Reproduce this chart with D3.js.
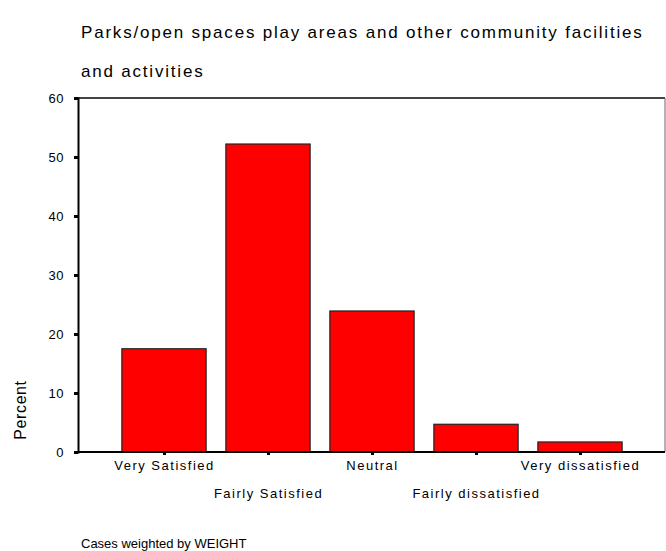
<!DOCTYPE html>
<html>
<head>
<meta charset="utf-8">
<script src="https://cdn.jsdelivr.net/npm/d3@7"></script>
<style>
  html, body { margin: 0; padding: 0; background: #fff; }
  svg text { font-family: Arial, "Liberation Sans", sans-serif; fill: #000; }
</style>
</head>
<body>
<svg id="chart" width="666" height="551"></svg>
<script>
const titleLines = ["Parks/open spaces play areas and other community facilities", "and activities"];
const categories = ["Very Satisfied", "Fairly Satisfied", "Neutral", "Fairly dissatisfied", "Very dissatisfied"];
const percents = [17.5, 52.2, 23.9, 4.7, 1.7];
const yTicks = [0, 10, 20, 30, 40, 50, 60];
const yLabel = "Percent";
const footnote = "Cases weighted by WEIGHT";

const svg = d3.select("#chart");
const plot = { left: 78, right: 665, top: 98, bottom: 452 };
const FONT = "Arial, 'Liberation Sans', sans-serif";

const x = d3.scalePoint().domain(categories).range([112, 632]).padding(0.5);
const step = x.step();
const barW = step * 0.81;
const y = d3.scaleLinear().domain([0, 60]).range([plot.bottom, plot.top]);

// title
svg.selectAll("text.title").data(titleLines).join("text")
  .attr("class", "title")
  .attr("x", 81)
  .attr("y", (d, i) => 38 + i * 39)
  .style("font-size", "17px")
  .style("letter-spacing", "1.8px")
  .text(d => d);

// frame top and right
svg.append("line").attr("x1", plot.left).attr("x2", plot.right).attr("y1", plot.top).attr("y2", plot.top)
  .attr("stroke", "#444").attr("stroke-width", 2);
svg.append("line").attr("x1", plot.right).attr("x2", plot.right).attr("y1", plot.top).attr("y2", plot.bottom)
  .attr("stroke", "#666").attr("stroke-width", 1);

// bars
svg.selectAll("rect.bar").data(categories).join("rect")
  .attr("class", "bar")
  .attr("x", d => x(d) - barW / 2)
  .attr("width", barW)
  .attr("y", (d, i) => y(percents[i]))
  .attr("height", (d, i) => y(0) - y(percents[i]))
  .attr("fill", "#ff0000")
  .attr("stroke", "#222")
  .attr("stroke-width", 1.2);

// y axis
const yAxis = svg.append("g").attr("transform", `translate(${plot.left},0)`)
  .call(d3.axisLeft(y).tickValues(yTicks).tickSize(4).tickFormat(d3.format("d")));
yAxis.select(".domain").attr("stroke", "#000").attr("stroke-width", 2);
yAxis.selectAll(".tick line").attr("stroke", "#000").attr("stroke-width", 3);
yAxis.selectAll(".tick text").attr("x", -14)
  .style("font-size", "13px").style("letter-spacing", "0.5px").style("font-family", FONT);

// x axis
const xAxis = svg.append("g").attr("transform", `translate(0,${plot.bottom})`)
  .call(d3.axisBottom(x).tickSize(3).tickPadding(6));
xAxis.select(".domain").attr("d", `M${plot.left},0H${plot.right}`).attr("stroke", "#000").attr("stroke-width", 2);
xAxis.selectAll(".tick line").attr("stroke", "#000").attr("stroke-width", 3);
xAxis.selectAll(".tick text")
  .attr("y", (d, i) => i % 2 === 0 ? 9 : 37)
  .attr("dy", "0.71em")
  .style("font-size", "13px")
  .style("letter-spacing", "1.5px")
  .style("font-family", FONT);

// y label
svg.append("text")
  .attr("transform", `translate(26,${410}) rotate(-90)`)
  .attr("text-anchor", "middle")
  .style("font-size", "16px")
  .style("letter-spacing", "0.6px")
  .text(yLabel);

// footnote
svg.append("text").attr("x", 81).attr("y", 548)
  .style("font-size", "13px")
  .text(footnote);
</script>
</body>
</html>
